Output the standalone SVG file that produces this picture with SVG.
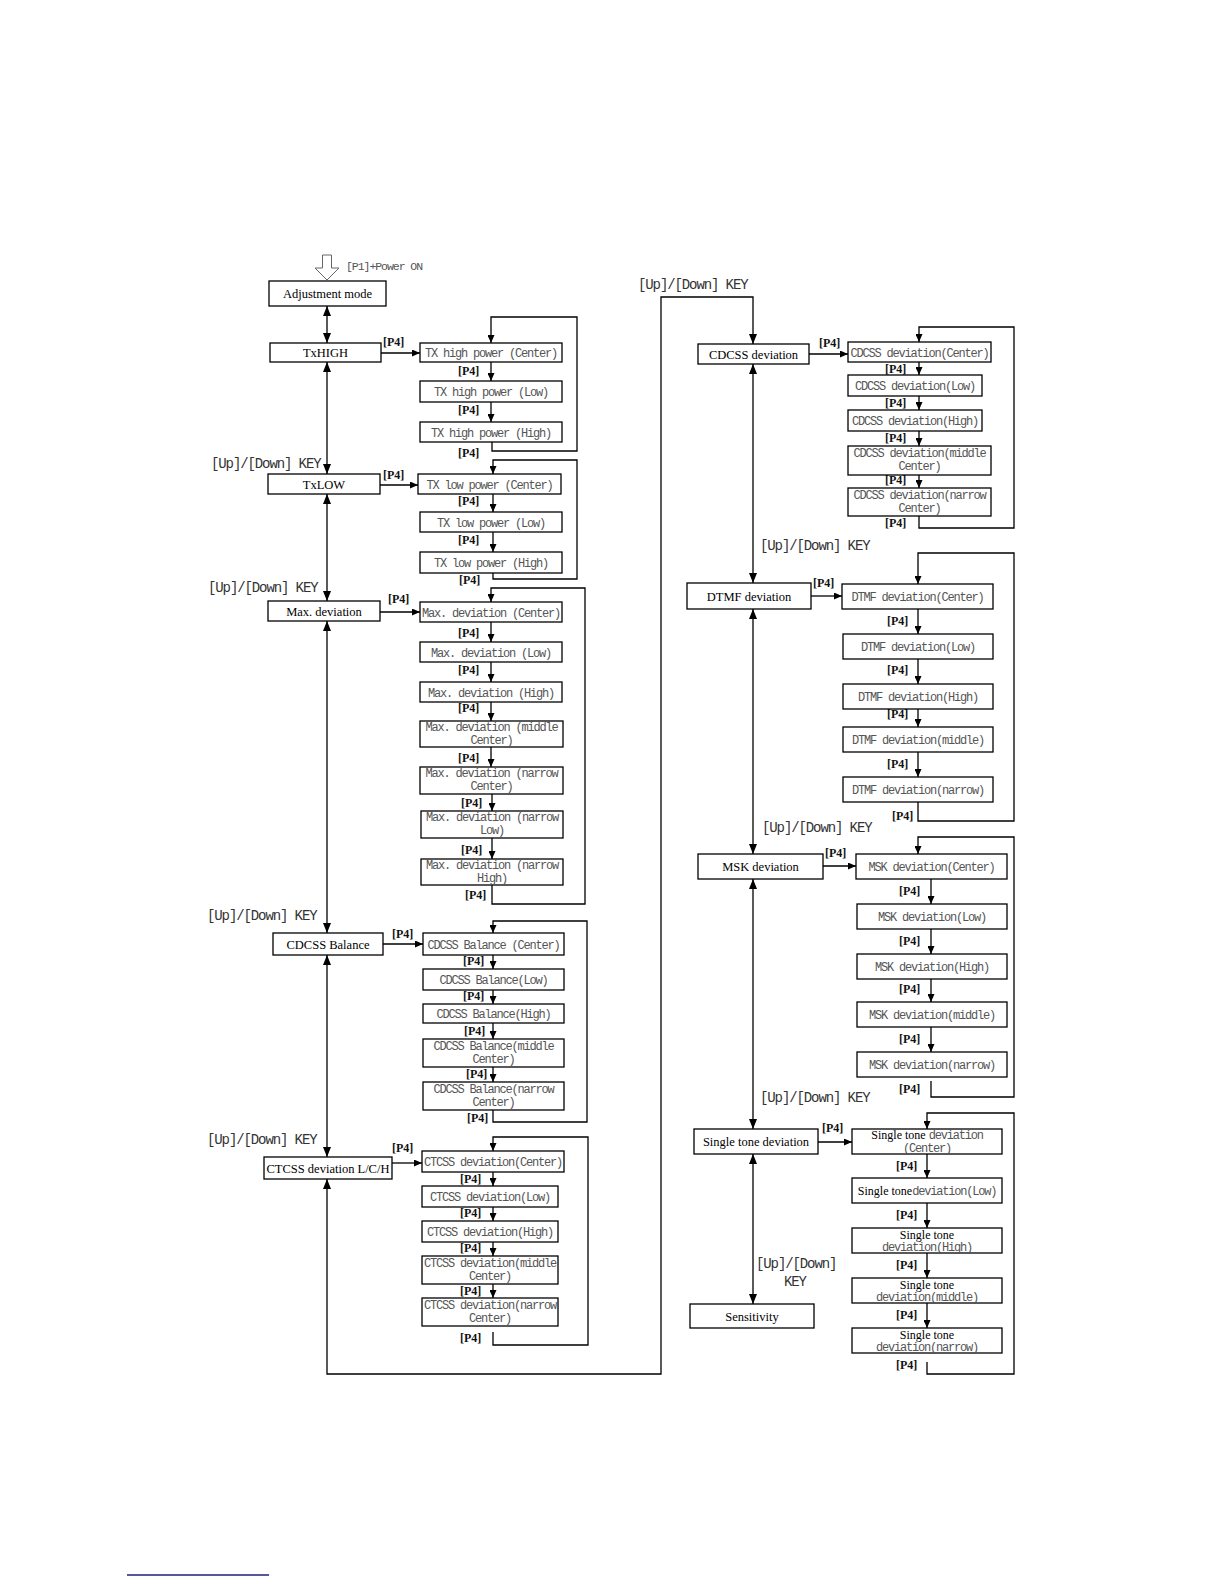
<svg xmlns="http://www.w3.org/2000/svg" width="1224" height="1584" viewBox="0 0 1224 1584">
<style>
.box{fill:#fff;stroke:#000;stroke-width:1.3}
.m{font-family:"Liberation Serif",serif;font-size:12.5px;text-anchor:middle;fill:#000}
.ms{font-family:"Liberation Serif",serif;font-size:12px;fill:#000}
.s{font-family:"Liberation Mono",monospace;font-size:12px;letter-spacing:-1.2px;text-anchor:middle;fill:#555}
.st{font-family:"Liberation Mono",monospace;font-size:12px;letter-spacing:-1.2px;fill:#555}
.p{font-family:"Liberation Serif",serif;font-weight:bold;font-size:12px;fill:#111}
.k{font-family:"Liberation Mono",monospace;font-size:14px;letter-spacing:-1.1px;fill:#333}
.c{fill:none;stroke:#000;stroke-width:1.3}
.a{marker-end:url(#ah)}
.d{marker-start:url(#al);marker-end:url(#al)}
</style>
<defs>
<marker id="ah" markerUnits="userSpaceOnUse" markerWidth="8" markerHeight="7" viewBox="0 0 8 7" refX="8" refY="3.5" orient="auto-start-reverse"><path d="M0,0 L8,3.5 L0,7 z" fill="#000"/></marker>
<marker id="al" markerUnits="userSpaceOnUse" markerWidth="10" markerHeight="8" viewBox="0 0 10 8" refX="10" refY="4" orient="auto-start-reverse"><path d="M0,0 L10,4 L0,8 z" fill="#000"/></marker>
</defs>
<rect width="1224" height="1584" fill="#fff"/>

<g id="start">
<polygon points="322.5,255 331.5,255 331.5,268 339,268 327,280 315,268 322.5,268" fill="#fff" stroke="#666" stroke-width="1"/>
<text x="346" y="270" class="st" style="font-size:11.5px;letter-spacing:-1.05px">[P1]+Power ON</text>
</g>

<g id="connectors">
<path class="c d" d="M327,306 V343"/>
<path class="c d" d="M327,362 V474"/>
<path class="c d" d="M327,494 V601"/>
<path class="c d" d="M327,621 V933"/>
<path class="c d" d="M327,955 V1157"/>
<path class="c" d="M327,1179 V1374 H661 V297 H753 V344" marker-start="url(#al)" marker-end="url(#al)"/>
<path class="c d" d="M753,364 V583"/>
<path class="c d" d="M753,609 V854"/>
<path class="c d" d="M753,879 V1129"/>
<path class="c d" d="M753,1154 V1304"/>
<path class="c a" d="M381,353 H420"/>
<path class="c a" d="M380,485 H418"/>
<path class="c a" d="M380,612 H420"/>
<path class="c a" d="M383,944 H423"/>
<path class="c a" d="M392,1163 H422"/>
<path class="c a" d="M809,354 H848"/>
<path class="c a" d="M811,596 H842"/>
<path class="c a" d="M823,866 H856"/>
<path class="c a" d="M818,1142 H852"/>
<path class="c a" d="M491,362 V381"/>
<path class="c a" d="M491,402 V422"/>
<path class="c a" d="M492,442 V451 H577 V317 H491 V343"/>
<path class="c a" d="M493,494 V512"/>
<path class="c a" d="M493,532 V552"/>
<path class="c a" d="M493,573 V579 H577 V460 H493 V474"/>
<path class="c a" d="M491,622 V642"/>
<path class="c a" d="M491,662 V682"/>
<path class="c a" d="M491,702 V721"/>
<path class="c a" d="M491,747 V767"/>
<path class="c a" d="M492,794 V811"/>
<path class="c a" d="M492,838 V859"/>
<path class="c a" d="M492,885 V904 H585 V588 H491 V602"/>
<path class="c a" d="M493,955 V969"/>
<path class="c a" d="M493,990 V1004"/>
<path class="c a" d="M493,1023 V1039"/>
<path class="c a" d="M493,1067 V1082"/>
<path class="c a" d="M493,1110 V1122 H587 V921 H493 V933"/>
<path class="c a" d="M493,1172 V1186"/>
<path class="c a" d="M493,1207 V1221"/>
<path class="c a" d="M493,1242 V1256"/>
<path class="c a" d="M493,1284 V1298"/>
<path class="c a" d="M493,1332 V1345 H588 V1137 H493 V1151"/>
<path class="c a" d="M919,362 V375"/>
<path class="c a" d="M919,396 V410"/>
<path class="c a" d="M919,431 V446"/>
<path class="c a" d="M919,475 V488"/>
<path class="c a" d="M919,516 V528 H1014 V327 H919 V342"/>
<path class="c a" d="M918,609 V634"/>
<path class="c a" d="M918,659 V684"/>
<path class="c a" d="M918,709 V727"/>
<path class="c a" d="M918,752 V777"/>
<path class="c a" d="M918,802 V821 H1014 V553 H918 V584"/>
<path class="c a" d="M931,879 V904"/>
<path class="c a" d="M931,929 V954"/>
<path class="c a" d="M931,979 V1002"/>
<path class="c a" d="M931,1027 V1052"/>
<path class="c a" d="M931,1081 V1097 H1014 V837 H918 V854"/>
<path class="c a" d="M927,1154 V1178"/>
<path class="c a" d="M927,1203 V1228"/>
<path class="c a" d="M927,1253 V1278"/>
<path class="c a" d="M927,1303 V1328"/>
<path class="c a" d="M927,1362 V1374 H1014 V1113 H927 V1129"/>
</g>

<g id="labels">
<text class="k" x="211" y="468">[Up]/[Down] KEY</text>
<text class="k" x="208" y="592">[Up]/[Down] KEY</text>
<text class="k" x="207" y="920">[Up]/[Down] KEY</text>
<text class="k" x="207" y="1144">[Up]/[Down] KEY</text>
<text class="k" x="638" y="289">[Up]/[Down] KEY</text>
<text class="k" x="760" y="550">[Up]/[Down] KEY</text>
<text class="k" x="762" y="832">[Up]/[Down] KEY</text>
<text class="k" x="760" y="1102">[Up]/[Down] KEY</text>
<text class="k" x="756" y="1268">[Up]/[Down]</text>
<text class="k" x="784" y="1286">KEY</text>
<text class="p" x="383" y="346">[P4]</text>
<text class="p" x="383" y="479">[P4]</text>
<text class="p" x="388" y="603">[P4]</text>
<text class="p" x="392" y="938">[P4]</text>
<text class="p" x="392" y="1152">[P4]</text>
<text class="p" x="819" y="347">[P4]</text>
<text class="p" x="813" y="587">[P4]</text>
<text class="p" x="825" y="857">[P4]</text>
<text class="p" x="822" y="1132">[P4]</text>
<text class="p" x="458" y="375">[P4]</text>
<text class="p" x="458" y="414">[P4]</text>
<text class="p" x="458" y="457">[P4]</text>
<text class="p" x="458" y="505">[P4]</text>
<text class="p" x="458" y="544">[P4]</text>
<text class="p" x="459" y="584">[P4]</text>
<text class="p" x="458" y="637">[P4]</text>
<text class="p" x="458" y="674">[P4]</text>
<text class="p" x="458" y="712">[P4]</text>
<text class="p" x="458" y="762">[P4]</text>
<text class="p" x="461" y="807">[P4]</text>
<text class="p" x="461" y="854">[P4]</text>
<text class="p" x="465" y="899">[P4]</text>
<text class="p" x="463" y="965">[P4]</text>
<text class="p" x="463" y="1000">[P4]</text>
<text class="p" x="464" y="1035">[P4]</text>
<text class="p" x="466" y="1078">[P4]</text>
<text class="p" x="467" y="1122">[P4]</text>
<text class="p" x="460" y="1183">[P4]</text>
<text class="p" x="460" y="1217">[P4]</text>
<text class="p" x="460" y="1252">[P4]</text>
<text class="p" x="460" y="1295">[P4]</text>
<text class="p" x="460" y="1342">[P4]</text>
<text class="p" x="885" y="373">[P4]</text>
<text class="p" x="885" y="407">[P4]</text>
<text class="p" x="885" y="442">[P4]</text>
<text class="p" x="885" y="484">[P4]</text>
<text class="p" x="885" y="527">[P4]</text>
<text class="p" x="887" y="625">[P4]</text>
<text class="p" x="887" y="674">[P4]</text>
<text class="p" x="887" y="718">[P4]</text>
<text class="p" x="887" y="768">[P4]</text>
<text class="p" x="892" y="820">[P4]</text>
<text class="p" x="899" y="895">[P4]</text>
<text class="p" x="899" y="945">[P4]</text>
<text class="p" x="899" y="993">[P4]</text>
<text class="p" x="899" y="1043">[P4]</text>
<text class="p" x="899" y="1093">[P4]</text>
<text class="p" x="896" y="1170">[P4]</text>
<text class="p" x="896" y="1219">[P4]</text>
<text class="p" x="896" y="1269">[P4]</text>
<text class="p" x="896" y="1319">[P4]</text>
<text class="p" x="896" y="1369">[P4]</text>
</g>

<g id="adjustment-mode"><rect class="box" x="269" y="281" width="117" height="25"/><text class="m" x="327.5" y="297.5">Adjustment mode</text></g>
<g id="txhigh"><rect class="box" x="270" y="343" width="111" height="19"/><text class="m" x="325.5" y="357">TxHIGH</text></g>
<g id="txlow"><rect class="box" x="268" y="474" width="112" height="20"/><text class="m" x="324" y="488.5">TxLOW</text></g>
<g id="max-deviation"><rect class="box" x="268" y="601" width="112" height="20"/><text class="m" x="324" y="615.5">Max. deviation</text></g>
<g id="cdcss-balance"><rect class="box" x="273" y="933" width="110" height="22"/><text class="m" x="328" y="948.5">CDCSS Balance</text></g>
<g id="ctcss-deviation"><rect class="box" x="264" y="1157" width="128" height="22"/><text class="m" x="328" y="1172.5">CTCSS deviation L/C/H</text></g>
<g id="cdcss-deviation"><rect class="box" x="698" y="344" width="111" height="20"/><text class="m" x="753.5" y="358.5">CDCSS deviation</text></g>
<g id="dtmf-deviation"><rect class="box" x="687" y="583" width="124" height="26"/><text class="m" x="749" y="600.5">DTMF deviation</text></g>
<g id="msk-deviation"><rect class="box" x="698" y="854" width="125" height="25"/><text class="m" x="760.5" y="871">MSK deviation</text></g>
<g id="single-tone-deviation"><rect class="box" x="694" y="1129" width="124" height="25"/><text class="m" x="756" y="1146">Single tone deviation</text></g>
<g id="sensitivity"><rect class="box" x="690" y="1304" width="124" height="24"/><text class="m" x="752" y="1320.5">Sensitivity</text></g>

<g id="txh-c"><rect class="box" x="420" y="343" width="142" height="19"/><text class="s" x="491" y="357">TX high power (Center)</text></g>
<g id="txh-l"><rect class="box" x="420" y="381" width="142" height="21"/><text class="s" x="491" y="396">TX high power (Low)</text></g>
<g id="txh-h"><rect class="box" x="420" y="422" width="142" height="20"/><text class="s" x="491" y="436.5">TX high power (High)</text></g>
<g id="txl-c"><rect class="box" x="418" y="474" width="143" height="20"/><text class="s" x="489.5" y="488.5">TX low power (Center)</text></g>
<g id="txl-l"><rect class="box" x="420" y="512" width="142" height="20"/><text class="s" x="491" y="526.5">TX low power (Low)</text></g>
<g id="txl-h"><rect class="box" x="420" y="552" width="142" height="21"/><text class="s" x="491" y="567">TX low power (High)</text></g>
<g id="max-c"><rect class="box" x="420" y="602" width="142" height="20"/><text class="s" x="491" y="616.5">Max. deviation (Center)</text></g>
<g id="max-l"><rect class="box" x="420" y="642" width="142" height="20"/><text class="s" x="491" y="656.5">Max. deviation (Low)</text></g>
<g id="max-h"><rect class="box" x="420" y="682" width="142" height="20"/><text class="s" x="491" y="696.5">Max. deviation (High)</text></g>
<g id="max-mc"><rect class="box" x="420" y="721" width="143" height="26"/><text class="s" x="491.5" y="731">Max. deviation (middle</text><text class="s" x="491.5" y="744">Center)</text></g>
<g id="max-nc"><rect class="box" x="420" y="767" width="143" height="27"/><text class="s" x="491.5" y="777">Max. deviation (narrow</text><text class="s" x="491.5" y="790">Center)</text></g>
<g id="max-nl"><rect class="box" x="421" y="811" width="142" height="27"/><text class="s" x="492" y="821">Max. deviation (narrow</text><text class="s" x="492" y="834">Low)</text></g>
<g id="max-nh"><rect class="box" x="421" y="859" width="142" height="26"/><text class="s" x="492" y="868.5">Max. deviation (narrow</text><text class="s" x="492" y="881.5">High)</text></g>
<g id="cb-c"><rect class="box" x="423" y="933" width="141" height="22"/><text class="s" x="493.5" y="948.5">CDCSS Balance (Center)</text></g>
<g id="cb-l"><rect class="box" x="423" y="969" width="141" height="21"/><text class="s" x="493.5" y="984">CDCSS Balance(Low)</text></g>
<g id="cb-h"><rect class="box" x="423" y="1004" width="141" height="19"/><text class="s" x="493.5" y="1018">CDCSS Balance(High)</text></g>
<g id="cb-mc"><rect class="box" x="423" y="1039" width="141" height="28"/><text class="s" x="493.5" y="1049.5">CDCSS Balance(middle</text><text class="s" x="493.5" y="1063">Center)</text></g>
<g id="cb-nc"><rect class="box" x="423" y="1082" width="141" height="28"/><text class="s" x="493.5" y="1092.5">CDCSS Balance(narrow</text><text class="s" x="493.5" y="1106">Center)</text></g>
<g id="ct-c"><rect class="box" x="422" y="1151" width="142" height="21"/><text class="s" x="493" y="1166">CTCSS deviation(Center)</text></g>
<g id="ct-l"><rect class="box" x="422" y="1186" width="136" height="21"/><text class="s" x="490" y="1201">CTCSS deviation(Low)</text></g>
<g id="ct-h"><rect class="box" x="422" y="1221" width="136" height="21"/><text class="s" x="490" y="1236">CTCSS deviation(High)</text></g>
<g id="ct-mc"><rect class="box" x="422" y="1256" width="136" height="28"/><text class="s" x="490" y="1266.5">CTCSS deviation(middle</text><text class="s" x="490" y="1280">Center)</text></g>
<g id="ct-nc"><rect class="box" x="422" y="1298" width="136" height="28"/><text class="s" x="490" y="1308.5">CTCSS deviation(narrow</text><text class="s" x="490" y="1322">Center)</text></g>
<g id="cd-c"><rect class="box" x="848" y="342" width="143" height="20"/><text class="s" x="919.5" y="356.5">CDCSS deviation(Center)</text></g>
<g id="cd-l"><rect class="box" x="848" y="375" width="134" height="21"/><text class="s" x="915" y="390">CDCSS deviation(Low)</text></g>
<g id="cd-h"><rect class="box" x="848" y="410" width="134" height="21"/><text class="s" x="915" y="425">CDCSS deviation(High)</text></g>
<g id="cd-mc"><rect class="box" x="848" y="446" width="143" height="29"/><text class="s" x="919.5" y="456.5">CDCSS deviation(middle</text><text class="s" x="919.5" y="470">Center)</text></g>
<g id="cd-nc"><rect class="box" x="848" y="488" width="143" height="28"/><text class="s" x="919.5" y="498.5">CDCSS deviation(narrow</text><text class="s" x="919.5" y="512">Center)</text></g>
<g id="dt-c"><rect class="box" x="842" y="584" width="151" height="25"/><text class="s" x="917.5" y="601">DTMF deviation(Center)</text></g>
<g id="dt-l"><rect class="box" x="843" y="634" width="150" height="25"/><text class="s" x="918" y="651">DTMF deviation(Low)</text></g>
<g id="dt-h"><rect class="box" x="843" y="684" width="150" height="25"/><text class="s" x="918" y="701">DTMF deviation(High)</text></g>
<g id="dt-m"><rect class="box" x="843" y="727" width="150" height="25"/><text class="s" x="918" y="744">DTMF deviation(middle)</text></g>
<g id="dt-n"><rect class="box" x="843" y="777" width="150" height="25"/><text class="s" x="918" y="794">DTMF deviation(narrow)</text></g>
<g id="ms-c"><rect class="box" x="856" y="854" width="151" height="25"/><text class="s" x="931.5" y="871">MSK deviation(Center)</text></g>
<g id="ms-l"><rect class="box" x="857" y="904" width="150" height="25"/><text class="s" x="932" y="921">MSK deviation(Low)</text></g>
<g id="ms-h"><rect class="box" x="857" y="954" width="150" height="25"/><text class="s" x="932" y="971">MSK deviation(High)</text></g>
<g id="ms-m"><rect class="box" x="857" y="1002" width="150" height="25"/><text class="s" x="932" y="1019">MSK deviation(middle)</text></g>
<g id="ms-n"><rect class="box" x="857" y="1052" width="150" height="25"/><text class="s" x="932" y="1069">MSK deviation(narrow)</text></g>
<g id="sg-c"><rect class="box" x="852" y="1129" width="150" height="25"/><text x="927" y="1139" style="text-anchor:middle"><tspan class="ms">Single tone </tspan><tspan class="st">deviation</tspan></text><text class="s" x="927" y="1151.5">(Center)</text></g>
<g id="sg-l"><rect class="box" x="852" y="1178" width="150" height="25"/><text x="927" y="1194.5" style="text-anchor:middle"><tspan class="ms">Single tone</tspan><tspan class="st">deviation(Low)</tspan></text></g>
<g id="sg-h"><rect class="box" x="852" y="1228" width="150" height="25"/><text class="m" style="font-size:12px" x="927" y="1239">Single tone</text><text class="s" x="927" y="1250.5">deviation(High)</text></g>
<g id="sg-m"><rect class="box" x="852" y="1278" width="150" height="25"/><text class="m" style="font-size:12px" x="927" y="1289">Single tone</text><text class="s" x="927" y="1300.5">deviation(middle)</text></g>
<g id="sg-n"><rect class="box" x="852" y="1328" width="150" height="25"/><text class="m" style="font-size:12px" x="927" y="1339">Single tone</text><text class="s" x="927" y="1350.5">deviation(narrow)</text></g>

<line x1="127" y1="1575" x2="269" y2="1575" stroke="#1f1f7a" stroke-width="1.5"/>
</svg>
